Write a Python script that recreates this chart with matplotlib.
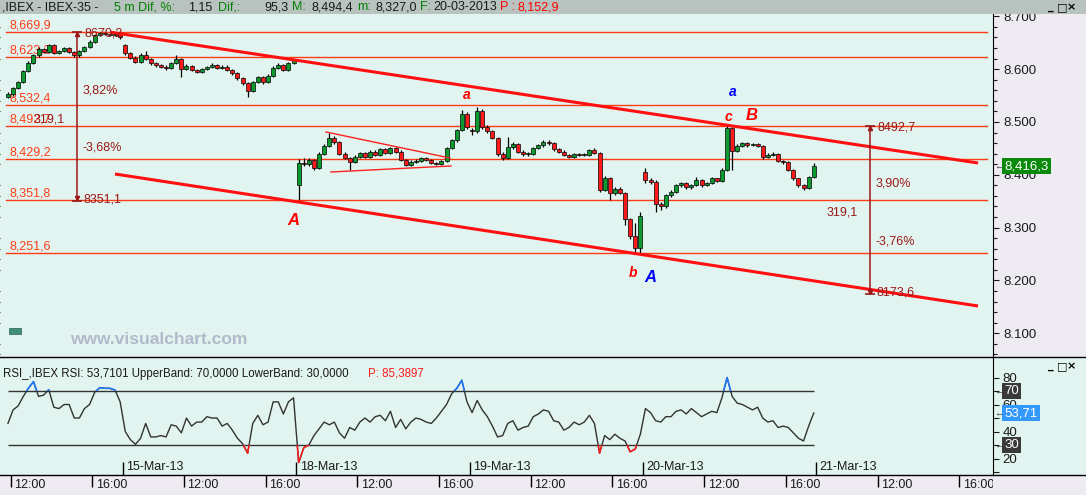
import matplotlib
matplotlib.use("Agg")
import matplotlib.pyplot as plt
from matplotlib.patches import Rectangle
from matplotlib.lines import Line2D
from matplotlib.ticker import MultipleLocator, FuncFormatter
from matplotlib.transforms import blended_transform_factory as blend
import numpy as np

plt.rcParams['font.family'] = ['Liberation Sans', 'DejaVu Sans']

# ---------------- data (IBEX-35, 15 min candles, trading-hour time axis) ----------------
dates = ["14-Mar-13", "15-Mar-13", "18-Mar-13", "19-Mar-13", "20-Mar-13", "21-Mar-13"]
first_slot = [11, 0, 0, 0, 0]          # first 15-min slot shown in each session (9:00 = 0)
day_open = [8548, 8645, 8380, 8485, 8405]

close_14 = [8553, 8565, 8575, 8597, 8612, 8626, 8638, 8633, 8645, 8630, 8634, 8640, 8632, 8626, 8634,
            8642, 8652, 8664, 8668, 8667, 8664, 8666, 8660]
high_14 = [8556, 8567, 8578, 8599, 8615, 8629, 8642, 8640, 8648, 8647, 8637, 8642, 8642, 8634, 8636,
           8644, 8655, 8666, 8670, 8670, 8669, 8668, 8667]
low_14 = [8545, 8550, 8562, 8573, 8595, 8610, 8624, 8630, 8631, 8628, 8628, 8632, 8630, 8624, 8624,
          8632, 8640, 8650, 8662, 8664, 8662, 8662, 8657]

close_15 = [8630, 8622, 8614, 8627, 8620, 8611, 8608, 8605, 8602, 8612, 8619, 8600, 8606, 8598, 8595,
            8600, 8604, 8608, 8602, 8605, 8598, 8592, 8583, 8573, 8558, 8575, 8586, 8575, 8588, 8603,
            8608, 8598, 8611, 8617]
high_15 = [8648, 8633, 8625, 8630, 8634, 8622, 8614, 8610, 8607, 8614, 8626, 8621, 8609, 8608, 8600,
           8602, 8606, 8611, 8610, 8607, 8607, 8600, 8594, 8585, 8575, 8578, 8588, 8588, 8590, 8606,
           8611, 8610, 8613, 8620]
low_15 = [8627, 8619, 8611, 8612, 8618, 8608, 8605, 8603, 8599, 8600, 8610, 8585, 8598, 8596, 8592,
          8593, 8598, 8602, 8600, 8600, 8596, 8589, 8580, 8570, 8548, 8556, 8573, 8572, 8573, 8586,
          8601, 8596, 8596, 8609]

close_18 = [8423, 8420, 8428, 8413, 8440, 8455, 8470, 8462, 8440, 8432, 8425, 8434, 8441, 8434, 8444,
            8438, 8448, 8441, 8450, 8444, 8428, 8419, 8425, 8427, 8431, 8428, 8423, 8420, 8426, 8450,
            8465, 8485, 8515, 8490]
high_18 = [8430, 8432, 8431, 8430, 8443, 8458, 8480, 8474, 8464, 8443, 8434, 8437, 8444, 8443, 8447,
           8446, 8451, 8450, 8453, 8452, 8446, 8430, 8428, 8430, 8434, 8433, 8430, 8425, 8428, 8452,
           8467, 8487, 8523, 8519]
low_18 = [8352, 8417, 8417, 8410, 8411, 8437, 8452, 8458, 8437, 8429, 8409, 8422, 8431, 8431, 8432,
          8435, 8436, 8439, 8439, 8441, 8426, 8416, 8417, 8422, 8425, 8426, 8420, 8418, 8418, 8424,
          8448, 8463, 8483, 8486]

close_19 = [8482, 8520, 8490, 8482, 8470, 8440, 8432, 8452, 8458, 8444, 8440, 8440, 8450, 8456, 8462,
            8460, 8448, 8444, 8438, 8434, 8440, 8438, 8438, 8447, 8442, 8372, 8394, 8365, 8374, 8366,
            8316, 8284, 8262, 8321]
high_19 = [8488, 8529, 8524, 8494, 8484, 8472, 8443, 8472, 8462, 8460, 8447, 8443, 8452, 8459, 8465,
           8465, 8462, 8450, 8446, 8440, 8442, 8442, 8441, 8449, 8450, 8444, 8397, 8396, 8377, 8376,
           8368, 8318, 8308, 8330]
low_19 = [8476, 8480, 8487, 8479, 8467, 8436, 8428, 8430, 8448, 8441, 8436, 8436, 8437, 8448, 8453,
          8457, 8445, 8441, 8435, 8431, 8432, 8435, 8435, 8436, 8439, 8368, 8369, 8352, 8362, 8363,
          8305, 8278, 8250, 8252]

close_20 = [8390, 8386, 8345, 8340, 8362, 8368, 8380, 8384, 8376, 8380, 8390, 8380, 8384, 8393, 8389,
            8410, 8488, 8445, 8455, 8460, 8456, 8458, 8455, 8433, 8438, 8440, 8426, 8424, 8410, 8393,
            8380, 8375, 8396, 8416.3]
high_20 = [8413, 8394, 8390, 8348, 8364, 8371, 8382, 8387, 8386, 8383, 8395, 8392, 8387, 8395, 8394,
           8412, 8493, 8490, 8458, 8463, 8462, 8461, 8460, 8456, 8441, 8443, 8441, 8428, 8426, 8411,
           8394, 8382, 8398, 8422]
low_20 = [8385, 8382, 8330, 8334, 8338, 8358, 8365, 8377, 8373, 8374, 8378, 8377, 8378, 8382, 8386,
          8387, 8408, 8409, 8443, 8452, 8453, 8454, 8452, 8430, 8431, 8436, 8424, 8420, 8407, 8390,
          8377, 8371, 8373, 8394]

rsi_14 = [46, 56, 59, 66, 72, 77, 66, 67, 71, 58, 57, 60, 60, 50, 50, 57, 60, 69, 72.5, 72, 72, 70.7, 62]
rsi_15 = [40, 34, 30.5, 35, 46, 36, 36, 37, 36, 45, 44, 39, 50, 44, 47, 47, 51, 50, 50, 44, 46, 41, 35,
          31, 24, 46, 52, 45, 47, 62, 62, 53, 62, 65]
rsi_18 = [17, 28, 30, 37, 42, 47, 45, 47, 39, 35, 43, 41, 47, 50, 47, 51, 52, 48, 55, 43, 49, 42, 47,
          50, 49, 47, 46, 50, 55, 60, 68, 72, 78, 62]
rsi_19 = [54, 63, 56, 51, 44, 36, 37, 46, 48, 41, 43, 44, 51, 53, 56, 55, 48, 47, 41, 43, 47, 45, 47,
          52, 46, 24, 37, 34, 38, 35, 33, 25, 27, 38]
rsi_20 = [57, 54, 48, 47, 51, 51, 55, 56, 53, 57, 54, 51, 53, 55, 54, 65, 80, 66, 61, 60, 58, 56, 58,
          50, 47, 48, 43, 44, 43, 39, 35, 33, 44, 53.71]

closes = [close_14, close_15, close_18, close_19, close_20]
highs = [high_14, high_15, high_18, high_19, high_20]
lows = [low_14, low_15, low_18, low_19, low_20]
rsis = [rsi_14, rsi_15, rsi_18, rsi_19, rsi_20]

levels = [8669.9, 8623.3, 8532.4, 8492.7, 8429.2, 8351.8, 8251.6]
channel_t = [[7.9, 50.43], [8.12, 50.43]]
channel_p = [[8670.0, 8422.3], [8401.5, 8151.5]]
triangle_t = [[18.47, 24.54], [18.71, 24.59]]
triangle_p = [[8481.0, 8431.8], [8405.3, 8416.7]]
measures = [(6.26, 8670.2, 8351.1), (45.13, 8492.7, 8173.6)]
waves = [("A", 16.85, 8314, "red", 12), ("a", 25.36, 8551, "red", 10), ("b", 33.51, 8214, "red", 10),
         ("A", 34.35, 8206, "blue", 12), ("a", 38.40, 8557, "blue", 10), ("c", 38.19, 8510, "red", 10),
         ("B", 39.33, 8513, "red", 12)]

# ---------------- styling ----------------
W, H = 1086, 495
CYAN = "#e1f4ef"
PINK = "#efebf2"
GREEN = "#0b9a2e"
RED = "#ff1a1a"
LEVEL = "#ff3c14"
DRED = "#9b1818"
T0 = 2.485
T1 = T0 + 993 / 20.4


def rect(x0, y0, x1, y1):
    return [x0 / W, 1 - y1 / H, (x1 - x0) / W, (y1 - y0) / H]


def comma(v, fmt="{:,.1f}"):
    return fmt.format(v).replace(".", ",")


fig = plt.figure(figsize=(W / 100, H / 100), dpi=100, facecolor=PINK)
fig.add_artist(Rectangle((0, 1 - 475 / H), 1, 118 / H, transform=fig.transFigure,
                         facecolor=CYAN, edgecolor="none", zorder=-5))

ax = fig.add_axes(rect(0, 14, 993, 356))
axr = fig.add_axes(rect(0, 357, 993, 475), sharex=ax)
axt = fig.add_axes(rect(0, 475, 993, 495), sharex=ax)
ax.set_facecolor(CYAN)
axr.set_facecolor(CYAN)
axt.set_facecolor(PINK)
ax.set_xlim(T0, T1)
ax.set_ylim(8056.8, 8704.5)
axr.set_ylim(7.8, 95.2)
axt.set_ylim(0, 1)

# ---------------- candles + RSI ----------------
t_all, r_all = [], []
for d in range(len(closes)):
    c = np.array(closes[d], float)
    h = np.array(highs[d], float)
    l = np.array(lows[d], float)
    t = 8.5 * d + (first_slot[d] + np.arange(len(c)) + 0.5) * 0.25
    o = np.concatenate([[day_open[d]], c[:-1]])
    ax.vlines(t, l, h, color="black", lw=0.9, zorder=3)
    ax.bar(t, np.maximum(np.abs(c - o), 2), bottom=np.minimum(o, c), width=0.2,
           color=np.where(c >= o, GREEN, RED), edgecolor="black", linewidth=0.5, zorder=4)
    t_all.append(t)
    r_all.append(rsis[d])
t_all = np.concatenate(t_all)
r_all = np.concatenate(r_all).astype(float)
last_close = closes[-1][-1]

# horizontal levels
for v in levels:
    ax.axhline(v, xmin=6 / 993, xmax=987 / 993, color=LEVEL, lw=1, zorder=1)
    ax.text(10 / 993, v + 1.5, comma(v), transform=blend(ax.transAxes, ax.transData),
            color=LEVEL, fontsize=9, va="bottom", ha="left", zorder=2)

# channel and triangle
for tt, pp in zip(channel_t, channel_p):
    ax.plot(tt, pp, color="#ff1010", lw=2.2, solid_capstyle="butt", zorder=5)
for tt, pp in zip(triangle_t, triangle_p):
    ax.plot(tt, pp, color="#ff2020", lw=1, zorder=5)

# measuring tools
for tm, hi, lo in measures:
    rng = hi - lo
    ax.plot([tm, tm], [lo, hi], color=DRED, lw=1.1, zorder=6)
    ax.plot([tm, tm], [lo, hi], ls="none", marker="_", ms=7, mew=1.2, color=DRED, zorder=6)
    ax.plot([tm], [hi - 4], ls="none", marker="^", ms=3, color=DRED, zorder=6)
    ax.plot([tm], [lo + 4], ls="none", marker="v", ms=3, color=DRED, zorder=6)
    kw = dict(textcoords="offset points", color=DRED, fontsize=9, va="center", zorder=7)
    ax.annotate(comma(hi, "{:.1f}"), (tm, hi), xytext=(5.5, -1), ha="left", **kw)
    ax.annotate(comma(lo, "{:.1f}"), (tm, lo), xytext=(5, 1), ha="left", **kw)
    ax.annotate(comma(rng / lo * 100, "{:.2f}") + "%", (tm, hi - rng * 0.345), xytext=(4, 0), ha="left", **kw)
    ax.annotate(comma(-rng / hi * 100, "{:.2f}") + "%", (tm, hi - rng * 0.687), xytext=(4, 0), ha="left", **kw)
    ax.annotate(comma(rng, "{:.1f}"), (tm, (hi + lo) / 2), xytext=(-9, -2), ha="right", **kw)

# wave labels
for txt, tt, pp, col, fs in waves:
    ax.text(tt, pp, txt, color=col, fontsize=fs, fontweight="bold", fontstyle="italic",
            ha="center", va="center", zorder=7)

ax.text(70 / 993, 0.047, "www.visualchart.com", transform=ax.transAxes, color="#b2bacb",
        fontsize=12.5, fontweight="bold", ha="left", va="center", zorder=2)
ax.add_patch(Rectangle((9 / 993, 0.065), 12 / 993, 0.017, transform=ax.transAxes,
                       facecolor="#3f8f78", edgecolor="#2a6050", lw=0.5, zorder=2))

# price axis
for a in (ax, axr, axt):
    for s in a.spines.values():
        s.set_visible(False)
    a.tick_params(bottom=False, labelbottom=False, left=False, labelleft=False)
ax.spines["right"].set_visible(True)
axr.spines["right"].set_visible(True)
ax.yaxis.set_major_locator(MultipleLocator(100))
ax.yaxis.set_minor_locator(MultipleLocator(20))
ax.yaxis.set_major_formatter(FuncFormatter(lambda v, p: "{:.3f}".format(v / 1000)))
ax.tick_params(axis="y", which="both", right=True, labelright=True, direction="out",
               colors="#1a1a1a", labelsize=9.5, pad=3, width=0.8)
ax.tick_params(axis="y", which="major", length=4.5)
ax.tick_params(axis="y", which="minor", length=3)

tag = dict(boxstyle="square,pad=0.15", ec="none")
trm = blend(ax.transAxes, ax.transData)
ax.text(1.0115, last_close, comma(last_close), transform=trm, color="white", fontsize=9.5,
        va="center", ha="left", bbox=dict(fc="#0a8a0a", **tag), clip_on=False, zorder=10)
ax.text(1.001, last_close, "←", transform=trm, color="#333333", fontsize=7, va="center",
        ha="left", clip_on=False, zorder=10)

# RSI panel
axr.plot(t_all, r_all, color="#333333", lw=1, zorder=3)
for lo, hi, col in [(70, 200, "#1e78ff"), (-100, 30, "#ff1a1a")]:
    ln, = axr.plot(t_all, r_all, color=col, lw=1.1, zorder=4)
    ln.set_clip_path(Rectangle((T0, lo), T1 - T0, hi - lo, transform=axr.transData))
axr.hlines([70, 30], t_all[0], t_all[-1], color="#333333", lw=1, zorder=2)
axr.set_yticks(range(10, 90, 10))
axr.set_yticklabels([str(v) if v in (20, 40, 60, 80) else "" for v in range(10, 90, 10)])
axr.tick_params(axis="y", right=True, labelright=True, direction="out", length=4, width=0.8,
                colors="#1a1a1a", labelsize=9.5, pad=3)
trr = blend(axr.transAxes, axr.transData)
for val, txt, bg in [(70, "70", "#3a3a3a"), (30, "30", "#3a3a3a"),
                     (r_all[-1], comma(r_all[-1], "{:.2f}"), "#3399ff")]:
    axr.text(1.0115, val, txt, transform=trr, color="white", fontsize=9.5, va="center", ha="left",
             bbox=dict(fc=bg, **tag), clip_on=False, zorder=10)
    axr.text(1.001, val, "←", transform=trr, color="#333333", fontsize=7, va="center",
             ha="left", clip_on=False, zorder=10)

axr.text(3 / 993, 0.86, "RSI_,IBEX RSI: 53,7101 UpperBand: 70,0000 LowerBand: 30,0000",
         transform=axr.transAxes, color="#1a1a1a", fontsize=8.3, va="center", ha="left")
axr.text(368 / 993, 0.86, "P: 85,3897", transform=axr.transAxes, color="#ff1a1a",
         fontsize=8.3, va="center", ha="left")

trd = blend(axr.transData, axr.transAxes)
for d in range(1, len(dates)):
    axr.vlines(8.5 * d, 0, 0.11, transform=trd, color="black", lw=1)
    axr.annotate(dates[d], (8.5 * d, 0.07), xycoords=trd, xytext=(2.5, 0), textcoords="offset points",
                 fontsize=9, va="center", ha="left", color="#1a1a1a")

# time axis
for d in range(len(dates)):
    for hh, lab in [(3, "12:00"), (7, "16:00")]:
        axt.vlines(8.5 * d + hh, 0.4, 1, color="black", lw=1)
        axt.annotate(lab, (8.5 * d + hh, 0.52), xytext=(2.5, 0), textcoords="offset points",
                     fontsize=9, va="center", ha="left", color="#1a1a1a", annotation_clip=True,
                     clip_on=True)

# separators, header and window buttons
for y in (356.5, 475):
    fig.add_artist(Line2D([0, 1], [1 - y / H] * 2, transform=fig.transFigure, color="black", lw=1, zorder=10))
fig.add_artist(Rectangle((0, 1 - 14 / H), 1, 14 / H, transform=fig.transFigure,
                         facecolor="#b8c3bf", edgecolor="none", zorder=10))
header = [(2, ",IBEX - IBEX-35 -", "#1a1a1a"), (114, "5 m Dif, %:", "#008000"), (188, "1,15", "#1a1a1a"),
          (218, "Dif,:", "#008000"), (264, "95,3", "#1a1a1a"), (292, "M:", "#008000"),
          (311, "8,494,4", "#1a1a1a"), (357, "m:", "#008000"), (376, "8,327,0", "#1a1a1a"),
          (420, "F:", "#008000"), (433, "20-03-2013", "#1a1a1a"), (500, "P :", "#ff0000"),
          (518, "8,152,9", "#ff0000")]
for x, txt, col in header:
    fig.text(x / W, 1 - 7.5 / H, txt, color=col, fontsize=9, va="center", ha="left", zorder=11)
for y in (7, 366):
    for x, g in [(1048, "_"), (1057, "□"), (1067, "×")]:
        fig.text(x / W, 1 - y / H, g, fontsize=8, fontweight="bold", va="center", ha="left",
                 color="black", family="DejaVu Sans", zorder=11)

fig.savefig("out.png", dpi=100, facecolor=fig.get_facecolor())
